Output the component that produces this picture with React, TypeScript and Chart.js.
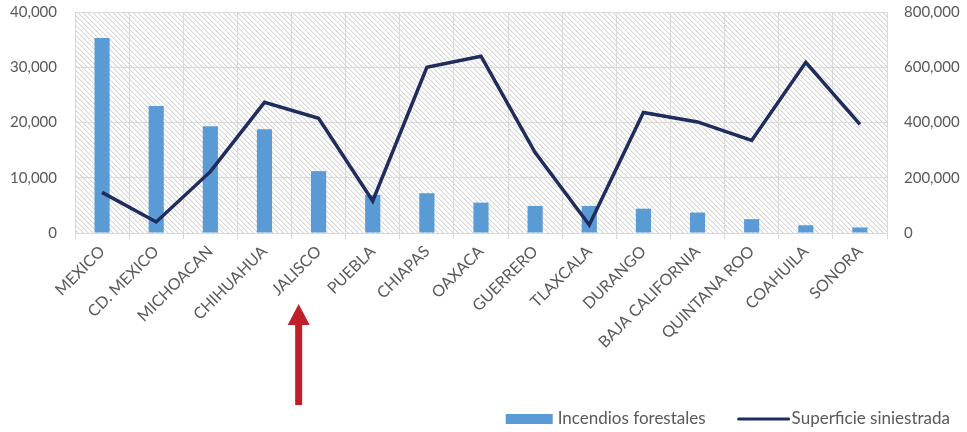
import React, { useEffect, useRef } from "react";
import { Chart, registerables } from "chart.js";

Chart.register(...registerables);

const categories = [
  "MEXICO",
  "CD. MEXICO",
  "MICHOACAN",
  "CHIHUAHUA",
  "JALISCO",
  "PUEBLA",
  "CHIAPAS",
  "OAXACA",
  "GUERRERO",
  "TLAXCALA",
  "DURANGO",
  "BAJA CALIFORNIA",
  "QUINTANA ROO",
  "COAHUILA",
  "SONORA",
];

const incendiosForestales = [35300, 23000, 19300, 18800, 11200, 6900, 7200, 5500, 4900, 4900, 4400, 3700, 2500, 1400, 1000];

const superficieSiniestrada = [147000, 40000, 222000, 473000, 415000, 116000, 600000, 640000, 291000, 29000, 436000, 402000, 335000, 618000, 393000];

const leftTickValues = [0, 10000, 20000, 30000, 40000];
const rightTickValues = [0, 200000, 400000, 600000, 800000];

const seriesNames = ["Incendios forestales", "Superficie siniestrada"];
const highlightedCategory = "JALISCO";

const FONT = "Lato, 'Open Sans', sans-serif";
const TEXT_COLOR = "#595959";
const GRID_COLOR = "#D9D9D9";
const BAR_COLOR = "#5B9BD5";
const LINE_COLOR = "#1F2C5E";
const ARROW_COLOR = "#C1202A";

function makeHatch(): CanvasPattern | string {
  const n = 5;
  const c = document.createElement("canvas");
  c.width = n;
  c.height = n;
  const g = c.getContext("2d");
  if (!g) return "#ffffff";
  g.fillStyle = "#ffffff";
  g.fillRect(0, 0, n, n);
  for (let y = 0; y < n; y++) {
    for (let x = 0; x < n; x++) {
      const d = (((x - y) % n) + n) % n;
      if (d === 0) {
        g.fillStyle = "#D6D6D6";
        g.fillRect(x, y, 1, 1);
      } else if (d === 1) {
        g.fillStyle = "#EEEEEE";
        g.fillRect(x, y, 1, 1);
      }
    }
  }
  const ctx = document.createElement("canvas").getContext("2d");
  const p = ctx ? ctx.createPattern(c, "repeat") : null;
  return p || "#ffffff";
}

const backgroundPlugin = {
  id: "hatchBackground",
  beforeDraw(chart: any) {
    const { ctx, chartArea, width, height } = chart;
    ctx.save();
    ctx.fillStyle = "#ffffff";
    ctx.fillRect(0, 0, width, height);
    ctx.fillStyle = makeHatch();
    ctx.fillRect(chartArea.left, chartArea.top, chartArea.right - chartArea.left, chartArea.bottom - chartArea.top);
    ctx.restore();
  },
};

const legendAndArrowPlugin = {
  id: "legendAndArrow",
  afterDraw(chart: any) {
    const { ctx, chartArea, width } = chart;
    const xScale = chart.scales.x;
    ctx.save();
    // Legend
    ctx.font = `17px ${FONT}`;
    ctx.textBaseline = "middle";
    ctx.fillStyle = TEXT_COLOR;
    const ly = chartArea.bottom + 186;
    const rightEnd = width - 17;
    const t2w = ctx.measureText(seriesNames[1]).width;
    const t1w = ctx.measureText(seriesNames[0]).width;
    const t2x = rightEnd - t2w;
    const sym2x = t2x - 3 - 50;
    const t1x = sym2x - 33 - t1w;
    const sym1x = t1x - 5 - 47;
    ctx.fillStyle = BAR_COLOR;
    ctx.fillRect(sym1x, ly - 5, 47, 10);
    ctx.fillStyle = TEXT_COLOR;
    ctx.textAlign = "left";
    ctx.fillText(seriesNames[0], t1x, ly);
    ctx.strokeStyle = LINE_COLOR;
    ctx.lineWidth = 3;
    ctx.lineCap = "round";
    ctx.beginPath();
    ctx.moveTo(sym2x, ly);
    ctx.lineTo(sym2x + 50, ly);
    ctx.stroke();
    ctx.fillText(seriesNames[1], t2x, ly);

    // Arrow pointing at highlighted category label
    const idx = categories.indexOf(highlightedCategory);
    ctx.font = `16px ${FONT}`;
    const lw = ctx.measureText(highlightedCategory).width;
    const ax = xScale.getPixelForValue(idx) - (lw / 2) * Math.SQRT1_2 + 2;
    const headTop = chartArea.bottom + 71;
    const headBottom = chartArea.bottom + 92;
    const shaftBottom = chartArea.bottom + 172;
    ctx.fillStyle = ARROW_COLOR;
    ctx.fillRect(ax - 3.5, headBottom - 1, 7, shaftBottom - headBottom + 1);
    ctx.beginPath();
    ctx.moveTo(ax, headTop);
    ctx.lineTo(ax + 11, headBottom);
    ctx.lineTo(ax - 11, headBottom);
    ctx.closePath();
    ctx.fill();
    ctx.restore();
  },
};

export default function App() {
  const canvasRef = useRef<HTMLCanvasElement | null>(null);

  useEffect(() => {
    document.body.style.margin = "0";
    const canvas = canvasRef.current;
    if (!canvas) return;
    const fmt = (v: any) => Number(v).toLocaleString("en-US");
    const chart = new Chart(canvas, {
      type: "bar",
      data: {
        labels: categories,
        datasets: [
          {
            type: "line",
            label: seriesNames[1],
            data: superficieSiniestrada,
            yAxisID: "y1",
            borderColor: LINE_COLOR,
            backgroundColor: LINE_COLOR,
            borderWidth: 3.5,
            pointRadius: 0,
            tension: 0,
            order: 1,
          } as any,
          {
            type: "bar",
            label: seriesNames[0],
            data: incendiosForestales,
            yAxisID: "y",
            backgroundColor: BAR_COLOR,
            barPercentage: 0.28,
            categoryPercentage: 1,
            order: 2,
          },
        ],
      },
      options: {
        responsive: false,
        animation: false,
        layout: { padding: { top: 1, left: 0, right: 0, bottom: 0 } },
        plugins: {
          legend: { display: false },
          tooltip: { enabled: false },
        },
        scales: {
          x: {
            grid: {
              offset: true,
              color: GRID_COLOR,
              lineWidth: 1,
              drawTicks: true,
              tickLength: 6,
            },
            border: { color: GRID_COLOR, width: 1 },
            ticks: {
              autoSkip: false,
              maxRotation: 45,
              minRotation: 45,
              padding: 3,
              color: TEXT_COLOR,
              font: { family: FONT, size: 16 },
            },
            afterFit: (s: any) => {
              s.height = 199;
            },
          },
          y: {
            position: "left",
            min: 0,
            max: 40000,
            afterBuildTicks: (s: any) => {
              s.ticks = leftTickValues.map((v) => ({ value: v }));
            },
            grid: { color: GRID_COLOR, drawTicks: true, tickLength: 15, tickColor: "rgba(0,0,0,0)" },
            border: { display: false },
            ticks: {
              padding: 3,
              color: TEXT_COLOR,
              font: { family: FONT, size: 15 },
              callback: fmt,
            },
            afterFit: (s: any) => {
              s.width = 75;
            },
          },
          y1: {
            position: "right",
            min: 0,
            max: 800000,
            afterBuildTicks: (s: any) => {
              s.ticks = rightTickValues.map((v) => ({ value: v }));
            },
            grid: { display: false, drawTicks: true, tickLength: 14, tickColor: "rgba(0,0,0,0)" },
            border: { display: false },
            ticks: {
              padding: 3,
              color: TEXT_COLOR,
              font: { family: FONT, size: 15 },
              callback: fmt,
            },
            afterFit: (s: any) => {
              s.width = 80;
            },
          },
        },
      },
      plugins: [backgroundPlugin, legendAndArrowPlugin],
    });
    return () => chart.destroy();
  }, []);

  return (
    <div style={{ width: 967, height: 432 }}>
      <canvas ref={canvasRef} width={967} height={432} style={{ display: "block" }} />
    </div>
  );
}
